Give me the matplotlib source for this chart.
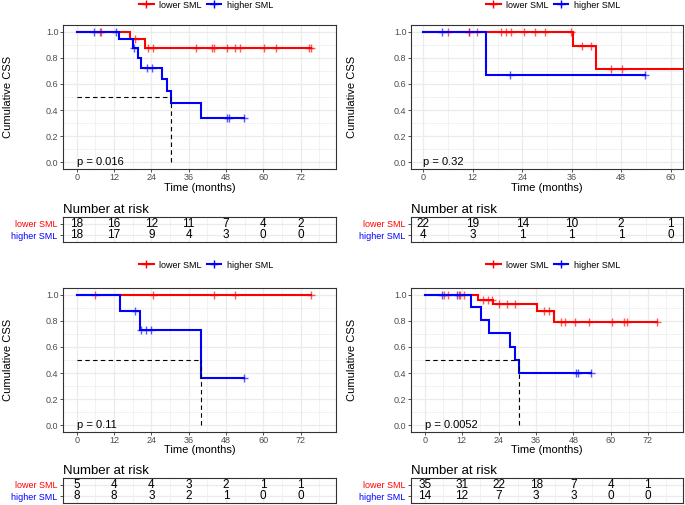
import numpy as np
import matplotlib
matplotlib.use("Agg")
import matplotlib.pyplot as plt
from matplotlib.lines import Line2D
from matplotlib.ticker import FormatStrFormatter, MultipleLocator

plt.rcParams['font.family'] = ['Liberation Sans', 'DejaVu Sans']

# ---------------- data ----------------
groups = ["lower SML", "higher SML"]
colors = ["#FF0000", "#0000FF"]

# Panel 1 (top-left)
p1_low_t = [0, 17.2, 22.1, 75.2]
p1_low_s = [1.0, 0.944, 0.872, 0.872]
p1_low_c = [7.4, 7.7, 18.6, 22.9, 24.7, 38.5, 43.6, 44.1, 48.3, 50.8, 52.6, 60.4, 64.2, 74.7, 75.2]
p1_high_t = [0, 13.6, 18.1, 19.7, 20.8, 27.4, 29.1, 30.2, 39.9, 53.8]
p1_high_s = [1.0, 0.941, 0.872, 0.80, 0.725, 0.635, 0.546, 0.457, 0.342, 0.342]
p1_high_c = [5.5, 12.8, 18.3, 22.6, 24.2, 48.3, 49.1, 53.8]
p1_p = "p = 0.016"
p1_breaks = [0, 12, 24, 36, 48, 60, 72]
p1_risk_low = [18, 16, 12, 11, 7, 4, 2]
p1_risk_high = [18, 17, 9, 4, 3, 0, 0]

# Panel 2 (top-right)
p2_low_t = [0, 36.2, 41.9, 75.0]
p2_low_s = [1.0, 0.889, 0.711, 0.711]
p2_low_c = [5.9, 11.0, 11.1, 13.0, 18.9, 20.0, 21.3, 24.5, 27.0, 29.4, 35.8, 38.6, 40.6, 45.5, 48.3]
p2_high_t = [0, 15.1, 53.9]
p2_high_s = [1.0, 0.667, 0.667]
p2_high_c = [4.5, 21.0, 53.9]
p2_p = "p = 0.32"
p2_breaks = [0, 12, 24, 36, 48, 60]
p2_risk_low = [22, 19, 14, 10, 2, 1]
p2_risk_high = [4, 3, 1, 1, 1, 0]

# Panel 3 (bottom-left)
p3_low_t = [0, 75.4]
p3_low_s = [1.0, 1.0]
p3_low_c = [6.0, 24.7, 44.1, 50.8, 75.4]
p3_high_t = [0, 13.8, 20.3, 39.9, 53.8]
p3_high_s = [1.0, 0.875, 0.729, 0.365, 0.365]
p3_high_c = [18.6, 20.8, 22.4, 24.0, 53.8]
p3_p = "p = 0.11"
p3_breaks = [0, 12, 24, 36, 48, 60, 72]
p3_risk_low = [5, 4, 4, 3, 2, 1, 1]
p3_risk_high = [8, 8, 3, 2, 1, 0, 0]

# Panel 4 (bottom-right)
p4_low_t = [0, 17.3, 22.1, 36.3, 41.7, 75.0]
p4_low_s = [1.0, 0.962, 0.929, 0.872, 0.793, 0.793]
p4_low_c = [6.3, 7.6, 11.0, 11.3, 12.8, 18.9, 20.5, 21.6, 23.9, 26.7, 29.1, 38.5, 40.3,
            43.9, 45.4, 48.4, 53.2, 60.5, 64.3, 65.3, 75.0]
p4_high_t = [0, 15.1, 18.3, 20.7, 27.5, 29.3, 30.5, 53.7]
p4_high_s = [1.0, 0.903, 0.809, 0.707, 0.602, 0.503, 0.40, 0.40]
p4_high_c = [5.5, 10.3, 48.7, 49.5, 53.7]
p4_p = "p = 0.0052"
p4_breaks = [0, 12, 24, 36, 48, 60, 72]
p4_risk_low = [35, 31, 22, 18, 7, 4, 1]
p4_risk_high = [14, 12, 7, 3, 3, 0, 0]

# ---------------- layout ----------------
W, H = 685, 505
fig = plt.figure(figsize=(W / 100, H / 100), dpi=100)


def rect(x0, y0, x1, y1):
    return [x0 / W, 1 - y1 / H, (x1 - x0) / W, (y1 - y0) / H]


GRID = "#EBEBEB"
EDGE = "#333333"
TICKC = "#4D4D4D"

panels = [
    dict(curves=[(p1_low_t, p1_low_s, p1_low_c), (p1_high_t, p1_high_s, p1_high_c)],
         p=p1_p, breaks=p1_breaks, risk=(p1_risk_low, p1_risk_high),
         xlim=(-4.4, 83.4), x0=63, x1=336, plot_y=(25, 169), tab_y=(217, 242),
         leg=(206, 5), ylab_x=8, xlab_y=188),
    dict(curves=[(p2_low_t, p2_low_s, p2_low_c), (p2_high_t, p2_high_s, p2_high_c)],
         p=p2_p, breaks=p2_breaks, risk=(p2_risk_low, p2_risk_high),
         xlim=(-3, 63), x0=411, x1=683, plot_y=(25, 169), tab_y=(217, 242),
         leg=(553, 5), ylab_x=352, xlab_y=188),
    dict(curves=[(p3_low_t, p3_low_s, p3_low_c), (p3_high_t, p3_high_s, p3_high_c)],
         p=p3_p, breaks=p3_breaks, risk=(p3_risk_low, p3_risk_high),
         xlim=(-4.4, 83.4), x0=63, x1=336, plot_y=(288, 432), tab_y=(478, 503),
         leg=(206, 265), ylab_x=8, xlab_y=450),
    dict(curves=[(p4_low_t, p4_low_s, p4_low_c), (p4_high_t, p4_high_s, p4_high_c)],
         p=p4_p, breaks=p4_breaks, risk=(p4_risk_low, p4_risk_high),
         xlim=(-4.4, 83.4), x0=411, x1=683, plot_y=(288, 432), tab_y=(478, 503),
         leg=(553, 265), ylab_x=352, xlab_y=450),
]


def style_axes(ax):
    for sp in ax.spines.values():
        sp.set_color(EDGE)
        sp.set_linewidth(0.8)
    ax.set_axisbelow(True)
    ax.grid(True, which="major", color=GRID, lw=0.9)
    ax.grid(True, which="minor", color=GRID, lw=0.45)
    ax.tick_params(which="major", length=2.2, width=0.6, color=EDGE, labelcolor=TICKC,
                   labelsize=6.5, pad=1)
    ax.tick_params(which="minor", length=0)


for P in panels:
    ax = fig.add_axes(rect(P["x0"], P["plot_y"][0], P["x1"], P["plot_y"][1]))
    style_axes(ax)
    ax.set_xlim(*P["xlim"])
    ax.set_ylim(-0.05, 1.05)
    ax.set_xticks(P["breaks"])
    ax.xaxis.set_minor_locator(MultipleLocator(6))
    ax.yaxis.set_major_locator(MultipleLocator(0.2))
    ax.yaxis.set_minor_locator(MultipleLocator(0.1))
    ax.yaxis.set_major_formatter(FormatStrFormatter("%.1f"))

    med = None
    for (t, s, c), col in zip(P["curves"], colors):
        t = np.asarray(t, float)
        s = np.asarray(s, float)
        ax.step(t, s, where="post", color=col, lw=1.5, solid_joinstyle="miter")
        c = np.asarray(c, float)
        cs = s[np.searchsorted(t, c, side="right") - 1]
        ax.plot(c, cs, ls="none", marker="+", ms=6, mew=1.0, color=col, alpha=0.65)
        below = np.where(s <= 0.5)[0]
        if len(below):
            med = t[below[0]]
    if med is not None:
        ax.plot([0, med], [0.5, 0.5], color="black", ls=(0, (4, 3)), lw=0.8)
        ax.plot([med, med], [0, 0.5], color="black", ls=(0, (4, 3)), lw=0.8)

    ax.text(0, 0.005, P["p"], ha="left", va="center", fontsize=8, color="black")

    # axis titles
    fig.text((P["x0"] + P["x1"]) / 2 / W, 1 - P["xlab_y"] / H, "Time (months)",
             ha="center", va="center", fontsize=8)
    fig.text(P["ylab_x"] / W, 1 - (P["plot_y"][0] + P["plot_y"][1]) / 2 / H,
             "Cumulative CSS", ha="center", va="center", rotation=90, fontsize=8)

    # legend
    handles = [Line2D([], [], color=col, lw=1.5, marker="+", ms=6, mew=1.0)
               for col in colors]
    fig.legend(handles, groups, loc="center",
               bbox_to_anchor=(P["leg"][0] / W, 1 - P["leg"][1] / H),
               ncol=2, frameon=False, fontsize=6.5, handlelength=1.6,
               handletextpad=0.6, columnspacing=0.6, borderpad=0)

    # risk table
    tax = fig.add_axes(rect(P["x0"], P["tab_y"][0], P["x1"], P["tab_y"][1]))
    style_axes(tax)
    tax.set_xlim(*P["xlim"])
    tax.set_ylim(0.4, 2.6)
    tax.set_xticks(P["breaks"])
    tax.set_xticklabels([])
    tax.xaxis.set_minor_locator(MultipleLocator(6))
    tax.tick_params(axis="x", length=0)
    tax.set_yticks([1, 2])
    tax.set_yticklabels(["higher SML", "lower SML"], fontsize=6.5)
    for lab, col in zip(tax.get_yticklabels(), [colors[1], colors[0]]):
        lab.set_color(col)
    tax.tick_params(axis="y", length=2, pad=2)
    low, high = P["risk"]
    for b, v1, v2 in zip(P["breaks"], low, high):
        tax.text(b, 2, str(v1), ha="center", va="center", fontsize=8.5)
        tax.text(b, 1, str(v2), ha="center", va="center", fontsize=8.5)
    tax.set_title("Number at risk", loc="left", fontsize=9.5, pad=3)

fig.savefig("out.png", dpi=100)
